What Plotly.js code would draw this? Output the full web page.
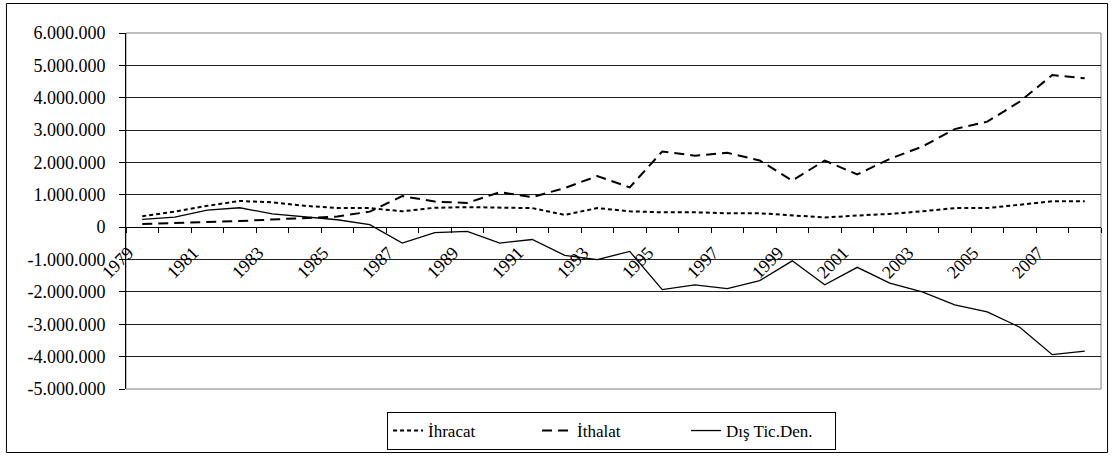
<!DOCTYPE html>
<html>
<head>
<meta charset="utf-8">
<script src="https://cdn.plot.ly/plotly-3.0.1.min.js"></script>
<style>
  html, body { margin: 0; padding: 0; background: #fff; }
  #chart { width: 1114px; height: 457px; }
</style>
</head>
<body>
<div id="chart"></div>
<script>
const years = ["1979","1980","1981","1982","1983","1984","1985","1986","1987","1988",
               "1989","1990","1991","1992","1993","1994","1995","1996","1997","1998",
               "1999","2000","2001","2002","2003","2004","2005","2006","2007","2008"];
const yearLabels = ["1979","","1981","","1983","","1985","","1987","",
                    "1989","","1991","","1993","","1995","","1997","",
                    "1999","","2001","","2003","","2005","","2007",""];
const ihracat = [340000,480000,660000,810000,770000,660000,590000,590000,490000,600000,
                 620000,600000,590000,380000,590000,490000,460000,460000,430000,430000,
                 360000,300000,360000,410000,490000,590000,590000,700000,800000,800000];
const ithalat = [100000,120000,160000,190000,230000,290000,330000,480000,960000,790000,
                 750000,1080000,930000,1210000,1580000,1230000,2340000,2210000,2300000,2060000,
                 1440000,2060000,1630000,2110000,2490000,3030000,3260000,3880000,4700000,4600000];
const disTicDen = [240000,310000,530000,600000,410000,310000,230000,80000,-490000,-170000,
                   -130000,-490000,-380000,-870000,-1000000,-750000,-1930000,-1780000,-1900000,-1650000,
                   -1040000,-1780000,-1240000,-1730000,-2000000,-2400000,-2620000,-3090000,-3940000,-3830000];
const yTickVals = [-5000000,-4000000,-3000000,-2000000,-1000000,0,1000000,2000000,3000000,4000000,5000000,6000000];
const yTickText = ["-5.000.000","-4.000.000","-3.000.000","-2.000.000","-1.000.000","0",
                   "1.000.000","2.000.000","3.000.000","4.000.000","5.000.000","6.000.000"];
const seriesNames = ["İhracat", "İthalat", "Dış Tic.Den."];

const FONT = "Liberation Serif";

const traces = [
  { x: years, y: ihracat, name: seriesNames[0], type: "scatter", mode: "lines",
    line: { color: "#000", width: 2, dash: "4px,3px" } },
  { x: years, y: ithalat, name: seriesNames[1], type: "scatter", mode: "lines",
    line: { color: "#000", width: 2, dash: "10px,6px" } },
  { x: years, y: disTicDen, name: seriesNames[2], type: "scatter", mode: "lines",
    line: { color: "#000", width: 1.3 } }
];

const yMin = yTickVals[0], yMax = yTickVals[yTickVals.length - 1];

const layout = {
  width: 1114, height: 457,
  margin: { l: 126, r: 13, t: 33, b: 68, autoexpand: false },
  paper_bgcolor: "#fff", plot_bgcolor: "#fff",
  font: { family: FONT, size: 18, color: "#000" },
  showlegend: true,
  legend: {
    orientation: "h", x: 0.498, xanchor: "center", y: -0.1713, yanchor: "bottom",
    bordercolor: "#000", borderwidth: 1, bgcolor: "#fff",
    font: { family: FONT, size: 17, color: "#000" },
    entrywidth: 104, entrywidthmode: "pixels", tracegroupgap: 0
  },
  xaxis: {
    type: "category",
    range: [-0.5, years.length - 0.5],
    anchor: "free",
    position: (0 - yMin) / (yMax - yMin),
    showline: true, linecolor: "#000", linewidth: 1,
    ticks: "outside", ticklen: 5, tickcolor: "#000", tickwidth: 1,
    tickson: "boundaries",
    tickmode: "array", tickvals: years, ticktext: yearLabels,
    tickangle: -45,
    ticklabelshift: -14,
    ticklabelstandoff: 7,
    tickfont: { family: FONT, size: 18, color: "#000" },
    showgrid: false, zeroline: false, fixedrange: true
  },
  yaxis: {
    range: [yMin, yMax],
    tickmode: "array", tickvals: yTickVals, ticktext: yTickText,
    showline: true, linecolor: "#000", linewidth: 1,
    ticks: "outside", ticklen: 6, tickcolor: "#000",
    ticklabelstandoff: 10,
    showgrid: true, gridcolor: "#222", gridwidth: 1,
    zeroline: false,
    tickfont: { family: FONT, size: 18, color: "#000" },
    fixedrange: true
  },
  shapes: [
    { type: "rect", xref: "paper", yref: "paper", x0: 0, x1: 1, y0: 0, y1: 1,
      line: { color: "#808080", width: 1 }, layer: "below" },
    { type: "rect", xref: "paper", yref: "paper",
      x0: -0.1226, x1: 1.0067, y0: -0.1784, y1: 1.0829,
      line: { color: "#000", width: 1 }, layer: "below" }
  ]
};

Plotly.newPlot("chart", traces, layout, { displayModeBar: false, staticPlot: true });
</script>
</body>
</html>
